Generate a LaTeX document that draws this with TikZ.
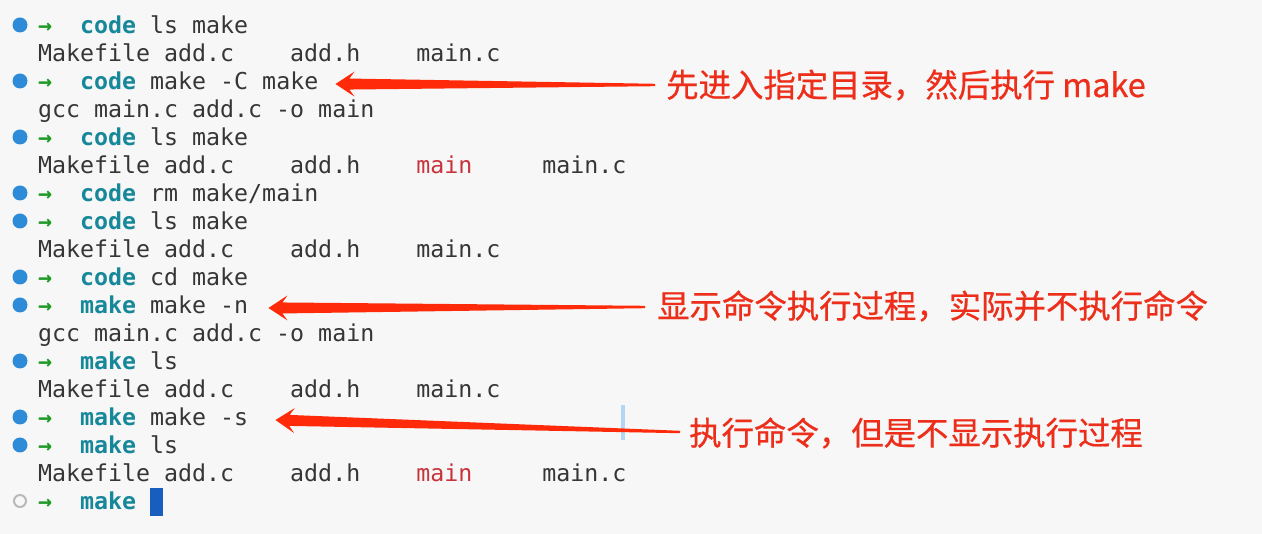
\documentclass[tikz,border=0pt]{standalone}
\usepackage{fontspec}
\setmonofont{DejaVu Sans Mono}
\newfontfamily\cjk[FakeBold=0.6]{Noto Sans CJK SC}
\usetikzlibrary{calc, positioning}
\definecolor{termbg}{HTML}{F7F7F7}
\definecolor{termgray}{HTML}{363636}
\definecolor{dirteal}{HTML}{17879A}
\definecolor{promptgreen}{HTML}{1E9A26}
\definecolor{promptblue}{HTML}{2E8BD8}
\definecolor{exered}{HTML}{C8343C}
\definecolor{arrowred}{HTML}{FF2A0A}
\definecolor{notered}{HTML}{EC2E1A}
\definecolor{cursorblue}{HTML}{165FBF}
\definecolor{caretblue}{HTML}{B5D5F5}
\newcommand{\cmd}[1]{{\color{promptgreen}\bfseries →}~~{\color{dirteal}\bfseries #1}}
% #1 tail, #2 tip
\newcommand{\tailarrow}[2]{%
  \path ($(#2)!19pt!(#1)$) coordinate (bk) ($(#2)!14pt!(#1)$) coordinate (nk);
  \fill[arrowred] (#2) -- ($(bk)!12.5pt!90:(#1)$) -- ($(nk)!5.5pt!90:(#1)$)
    -- ($(#1)!1.2pt!-90:(nk)$) -- ($(#1)!1.2pt!90:(nk)$)
    -- ($(nk)!5.5pt!-90:(#1)$) -- ($(bk)!12.5pt!-90:(#1)$) -- cycle;}
\tikzset{
  term/.style={font=\ttfamily\fontsize{23.26}{28}\selectfont, text=termgray,
    inner sep=0pt, anchor=base west, text height=17pt, text depth=5pt},
  note/.style={font=\cjk\fontsize{32.4}{38}\selectfont, text=notered,
    inner sep=0pt, anchor=west},
}
\begin{document}
\begin{tikzpicture}[x=1pt, y=-1pt]
  \fill[termbg] (0,0) rectangle (1262,534);
  % prompts
  \foreach \k in {0,2,4,6,7,9,10,12,14,15}
    \fill[promptblue] (20,25+28*\k) circle[radius=7.5pt];
  \draw[gray!55, line width=2pt] (20,501) circle[radius=6pt];

  \node[term] (l1) at (38,34) {\cmd{code}~ls~make};
  \node[term] (l2) at (38,62) {Makefile~add.c~~~~add.h~~~~main.c};
  \node[term] (l3) at (38,90) {\cmd{code}~make~-C~make};
  \node[term] (l4) at (38,118) {gcc~main.c~add.c~-o~main};
  \node[term] (l5) at (38,146) {\cmd{code}~ls~make};
  \node[term] (l6) at (38,174) {Makefile~add.c~~~~add.h~~~~{\color{exered}main}~~~~~main.c};
  \node[term] (l7) at (38,202) {\cmd{code}~rm~make/main};
  \node[term] (l8) at (38,230) {\cmd{code}~ls~make};
  \node[term] (l9) at (38,258) {Makefile~add.c~~~~add.h~~~~main.c};
  \node[term] (l10) at (38,286) {\cmd{code}~cd~make};
  \node[term] (l11) at (38,314) {\cmd{make}~make~-n};
  \node[term] (l12) at (38,342) {gcc~main.c~add.c~-o~main};
  \node[term] (l13) at (38,370) {\cmd{make}~ls};
  \node[term] (l14) at (38,398) {Makefile~add.c~~~~add.h~~~~main.c};
  \node[term] (l15) at (38,426) {\cmd{make}~make~-s};
  \node[term] (l16) at (38,454) {\cmd{make}~ls};
  \node[term] (l17) at (38,482) {Makefile~add.c~~~~add.h~~~~{\color{exered}main}~~~~~main.c};
  \node[term] (l18) at (38,510) {\cmd{make}};
  \fill[cursorblue] ($(l18.base east)+(14,-22)$) rectangle +(13,28);
  \fill[caretblue] (621,405) rectangle (625,440);

  % notes
  \node[note] (nC) at (666,85) {先进入指定目录，然后执行 make};
  \node[note] (nN) at (657,306) {显示命令执行过程，实际并不执行命令};
  \node[note] (nS) at (689,433) {执行命令，但是不显示执行过程};

  \coordinate (tC) at ($(nC.west)+(-11,0)$);
  \coordinate (hC) at ($(l3.east)+(17,0)$);
  \coordinate (tN) at ($(nN.west)+(-12,1)$);
  \coordinate (hN) at ($(l11.east)+(20,0)$);
  \coordinate (tS) at ($(nS.west)+(-9,-1)$);
  \coordinate (hS) at ($(l15.east)+(27,0)$);
  \tailarrow{tC}{hC}
  \tailarrow{tN}{hN}
  \tailarrow{tS}{hS}
\end{tikzpicture}
\end{document}
